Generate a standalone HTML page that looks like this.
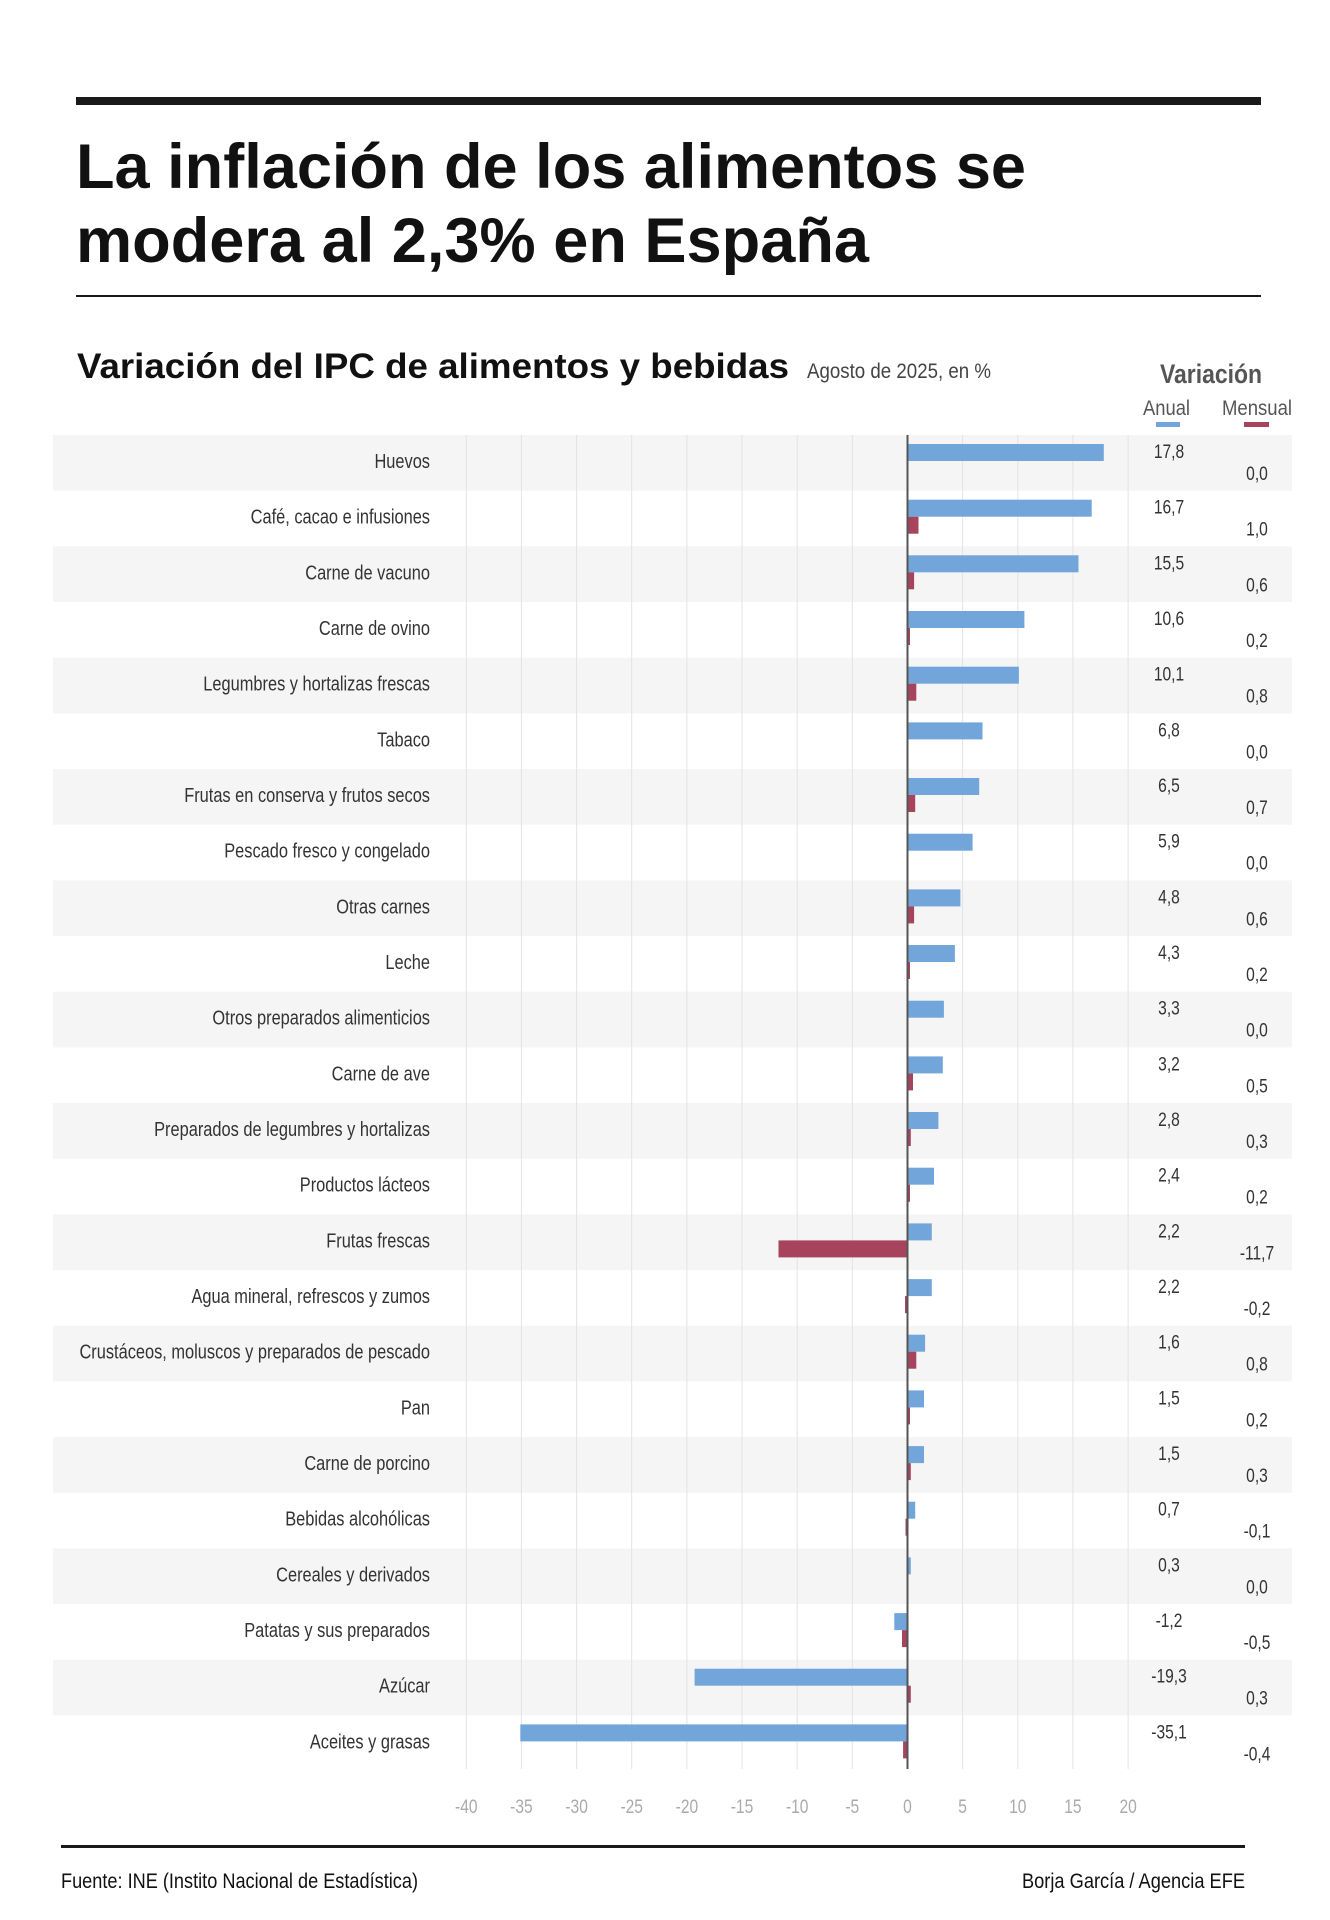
<!DOCTYPE html>
<html><head><meta charset="utf-8"><style>
html,body{margin:0;padding:0;background:#fff;}
svg{display:block;}
.n{font-family:"Liberation Sans Narrow","Liberation Sans",sans-serif;}
.b{font-family:"Liberation Sans",sans-serif;font-weight:bold;}
.lab{font-size:20px;fill:#333;text-anchor:end;}
.va{font-size:19px;fill:#333;text-anchor:middle;}
.tk{font-size:19px;fill:#aaa;text-anchor:middle;}
</style></head><body>
<svg width="1330" height="1920" viewBox="0 0 1330 1920" xmlns="http://www.w3.org/2000/svg">
<rect x="76" y="97" width="1185" height="8" fill="#1a1a1a"/>
<text class="b" x="76" y="188" font-size="63" fill="#111" textLength="950" lengthAdjust="spacingAndGlyphs">La inflación de los alimentos se</text>
<text class="b" x="76" y="262" font-size="63" fill="#111" textLength="793" lengthAdjust="spacingAndGlyphs">modera al 2,3% en España</text>
<rect x="76" y="295" width="1185" height="2" fill="#1a1a1a"/>
<text class="b" x="77" y="378" font-size="35" fill="#111" textLength="712" lengthAdjust="spacingAndGlyphs">Variación del IPC de alimentos y bebidas</text>
<text class="n" x="807" y="378" font-size="21" fill="#444" textLength="184" lengthAdjust="spacingAndGlyphs">Agosto de 2025, en %</text>
<text class="b" x="1160" y="383" font-size="27" fill="#555" textLength="102" lengthAdjust="spacingAndGlyphs">Variación</text>
<text class="n" x="1143" y="415" font-size="21" fill="#555" textLength="47" lengthAdjust="spacingAndGlyphs">Anual</text>
<text class="n" x="1222" y="415" font-size="21" fill="#555" textLength="70" lengthAdjust="spacingAndGlyphs">Mensual</text>
<rect x="1156" y="422" width="24" height="5" fill="#72a6db"/>
<rect x="1244" y="422" width="25" height="5" fill="#a8435e"/>

<g fill="#f5f5f5">
<rect x="53" y="435" width="1239" height="55.7"/>
<rect x="53" y="546.3" width="1239" height="55.7"/>
<rect x="53" y="657.7" width="1239" height="55.7"/>
<rect x="53" y="769" width="1239" height="55.7"/>
<rect x="53" y="880.4" width="1239" height="55.7"/>
<rect x="53" y="991.7" width="1239" height="55.7"/>
<rect x="53" y="1103" width="1239" height="55.7"/>
<rect x="53" y="1214.4" width="1239" height="55.7"/>
<rect x="53" y="1325.7" width="1239" height="55.7"/>
<rect x="53" y="1437.1" width="1239" height="55.7"/>
<rect x="53" y="1548.4" width="1239" height="55.7"/>
<rect x="53" y="1659.7" width="1239" height="55.7"/>
</g>
<g stroke="#e3e3e3" stroke-width="1">
<line x1="466.3" y1="435" x2="466.3" y2="1769"/>
<line x1="521.4" y1="435" x2="521.4" y2="1769"/>
<line x1="576.6" y1="435" x2="576.6" y2="1769"/>
<line x1="631.7" y1="435" x2="631.7" y2="1769"/>
<line x1="686.9" y1="435" x2="686.9" y2="1769"/>
<line x1="742" y1="435" x2="742" y2="1769"/>
<line x1="797.2" y1="435" x2="797.2" y2="1769"/>
<line x1="852.3" y1="435" x2="852.3" y2="1769"/>
<line x1="962.6" y1="435" x2="962.6" y2="1769"/>
<line x1="1017.8" y1="435" x2="1017.8" y2="1769"/>
<line x1="1072.9" y1="435" x2="1072.9" y2="1769"/>
<line x1="1128.1" y1="435" x2="1128.1" y2="1769"/>
</g>
<g class="n">
<text class="tk" transform="translate(466.3,1813) scale(.82,1)">-40</text>
<text class="tk" transform="translate(521.4,1813) scale(.82,1)">-35</text>
<text class="tk" transform="translate(576.6,1813) scale(.82,1)">-30</text>
<text class="tk" transform="translate(631.7,1813) scale(.82,1)">-25</text>
<text class="tk" transform="translate(686.9,1813) scale(.82,1)">-20</text>
<text class="tk" transform="translate(742,1813) scale(.82,1)">-15</text>
<text class="tk" transform="translate(797.2,1813) scale(.82,1)">-10</text>
<text class="tk" transform="translate(852.3,1813) scale(.82,1)">-5</text>
<text class="tk" transform="translate(907.5,1813) scale(.82,1)">0</text>
<text class="tk" transform="translate(962.6,1813) scale(.82,1)">5</text>
<text class="tk" transform="translate(1017.8,1813) scale(.82,1)">10</text>
<text class="tk" transform="translate(1072.9,1813) scale(.82,1)">15</text>
<text class="tk" transform="translate(1128.1,1813) scale(.82,1)">20</text>
</g>

<g class="n">
<g transform="translate(0,435)"><text class="lab" transform="translate(430,33) scale(.82,1)">Huevos</text><rect x="907.5" y="9" width="196.3" height="17" fill="#72a6db"/><text class="va" transform="translate(1169,23) scale(.82,1)">17,8</text><text class="va" transform="translate(1257,45) scale(.82,1)">0,0</text></g>
<g transform="translate(0,490.7)"><text class="lab" transform="translate(430,33) scale(.82,1)">Café, cacao e infusiones</text><rect x="907.5" y="9" width="184.2" height="17" fill="#72a6db"/><rect x="907.5" y="26" width="11" height="17" fill="#a8435e"/><text class="va" transform="translate(1169,23) scale(.82,1)">16,7</text><text class="va" transform="translate(1257,45) scale(.82,1)">1,0</text></g>
<g transform="translate(0,546.3)"><text class="lab" transform="translate(430,33) scale(.82,1)">Carne de vacuno</text><rect x="907.5" y="9" width="171" height="17" fill="#72a6db"/><rect x="907.5" y="26" width="6.6" height="17" fill="#a8435e"/><text class="va" transform="translate(1169,23) scale(.82,1)">15,5</text><text class="va" transform="translate(1257,45) scale(.82,1)">0,6</text></g>
<g transform="translate(0,602)"><text class="lab" transform="translate(430,33) scale(.82,1)">Carne de ovino</text><rect x="907.5" y="9" width="116.9" height="17" fill="#72a6db"/><rect x="907.5" y="26" width="2.5" height="17" fill="#a8435e"/><text class="va" transform="translate(1169,23) scale(.82,1)">10,6</text><text class="va" transform="translate(1257,45) scale(.82,1)">0,2</text></g>
<g transform="translate(0,657.7)"><text class="lab" transform="translate(430,33) scale(.82,1)">Legumbres y hortalizas frescas</text><rect x="907.5" y="9" width="111.4" height="17" fill="#72a6db"/><rect x="907.5" y="26" width="8.8" height="17" fill="#a8435e"/><text class="va" transform="translate(1169,23) scale(.82,1)">10,1</text><text class="va" transform="translate(1257,45) scale(.82,1)">0,8</text></g>
<g transform="translate(0,713.4)"><text class="lab" transform="translate(430,33) scale(.82,1)">Tabaco</text><rect x="907.5" y="9" width="75" height="17" fill="#72a6db"/><text class="va" transform="translate(1169,23) scale(.82,1)">6,8</text><text class="va" transform="translate(1257,45) scale(.82,1)">0,0</text></g>
<g transform="translate(0,769)"><text class="lab" transform="translate(430,33) scale(.82,1)">Frutas en conserva y frutos secos</text><rect x="907.5" y="9" width="71.7" height="17" fill="#72a6db"/><rect x="907.5" y="26" width="7.7" height="17" fill="#a8435e"/><text class="va" transform="translate(1169,23) scale(.82,1)">6,5</text><text class="va" transform="translate(1257,45) scale(.82,1)">0,7</text></g>
<g transform="translate(0,824.7)"><text class="lab" transform="translate(430,33) scale(.82,1)">Pescado fresco y congelado</text><rect x="907.5" y="9" width="65.1" height="17" fill="#72a6db"/><text class="va" transform="translate(1169,23) scale(.82,1)">5,9</text><text class="va" transform="translate(1257,45) scale(.82,1)">0,0</text></g>
<g transform="translate(0,880.4)"><text class="lab" transform="translate(430,33) scale(.82,1)">Otras carnes</text><rect x="907.5" y="9" width="52.9" height="17" fill="#72a6db"/><rect x="907.5" y="26" width="6.6" height="17" fill="#a8435e"/><text class="va" transform="translate(1169,23) scale(.82,1)">4,8</text><text class="va" transform="translate(1257,45) scale(.82,1)">0,6</text></g>
<g transform="translate(0,936)"><text class="lab" transform="translate(430,33) scale(.82,1)">Leche</text><rect x="907.5" y="9" width="47.4" height="17" fill="#72a6db"/><rect x="907.5" y="26" width="2.5" height="17" fill="#a8435e"/><text class="va" transform="translate(1169,23) scale(.82,1)">4,3</text><text class="va" transform="translate(1257,45) scale(.82,1)">0,2</text></g>
<g transform="translate(0,991.7)"><text class="lab" transform="translate(430,33) scale(.82,1)">Otros preparados alimenticios</text><rect x="907.5" y="9" width="36.4" height="17" fill="#72a6db"/><text class="va" transform="translate(1169,23) scale(.82,1)">3,3</text><text class="va" transform="translate(1257,45) scale(.82,1)">0,0</text></g>
<g transform="translate(0,1047.4)"><text class="lab" transform="translate(430,33) scale(.82,1)">Carne de ave</text><rect x="907.5" y="9" width="35.3" height="17" fill="#72a6db"/><rect x="907.5" y="26" width="5.5" height="17" fill="#a8435e"/><text class="va" transform="translate(1169,23) scale(.82,1)">3,2</text><text class="va" transform="translate(1257,45) scale(.82,1)">0,5</text></g>
<g transform="translate(0,1103)"><text class="lab" transform="translate(430,33) scale(.82,1)">Preparados de legumbres y hortalizas</text><rect x="907.5" y="9" width="30.9" height="17" fill="#72a6db"/><rect x="907.5" y="26" width="3.3" height="17" fill="#a8435e"/><text class="va" transform="translate(1169,23) scale(.82,1)">2,8</text><text class="va" transform="translate(1257,45) scale(.82,1)">0,3</text></g>
<g transform="translate(0,1158.7)"><text class="lab" transform="translate(430,33) scale(.82,1)">Productos lácteos</text><rect x="907.5" y="9" width="26.5" height="17" fill="#72a6db"/><rect x="907.5" y="26" width="2.5" height="17" fill="#a8435e"/><text class="va" transform="translate(1169,23) scale(.82,1)">2,4</text><text class="va" transform="translate(1257,45) scale(.82,1)">0,2</text></g>
<g transform="translate(0,1214.4)"><text class="lab" transform="translate(430,33) scale(.82,1)">Frutas frescas</text><rect x="907.5" y="9" width="24.3" height="17" fill="#72a6db"/><rect x="778.5" y="26" width="129" height="17" fill="#a8435e"/><text class="va" transform="translate(1169,23) scale(.82,1)">2,2</text><text class="va" transform="translate(1257,45) scale(.82,1)">-11,7</text></g>
<g transform="translate(0,1270.1)"><text class="lab" transform="translate(430,33) scale(.82,1)">Agua mineral, refrescos y zumos</text><rect x="907.5" y="9" width="24.3" height="17" fill="#72a6db"/><rect x="905" y="26" width="2.5" height="17" fill="#a8435e"/><text class="va" transform="translate(1169,23) scale(.82,1)">2,2</text><text class="va" transform="translate(1257,45) scale(.82,1)">-0,2</text></g>
<g transform="translate(0,1325.7)"><text class="lab" transform="translate(430,33) scale(.82,1)">Crustáceos, moluscos y preparados de pescado</text><rect x="907.5" y="9" width="17.6" height="17" fill="#72a6db"/><rect x="907.5" y="26" width="8.8" height="17" fill="#a8435e"/><text class="va" transform="translate(1169,23) scale(.82,1)">1,6</text><text class="va" transform="translate(1257,45) scale(.82,1)">0,8</text></g>
<g transform="translate(0,1381.4)"><text class="lab" transform="translate(430,33) scale(.82,1)">Pan</text><rect x="907.5" y="9" width="16.5" height="17" fill="#72a6db"/><rect x="907.5" y="26" width="2.5" height="17" fill="#a8435e"/><text class="va" transform="translate(1169,23) scale(.82,1)">1,5</text><text class="va" transform="translate(1257,45) scale(.82,1)">0,2</text></g>
<g transform="translate(0,1437.1)"><text class="lab" transform="translate(430,33) scale(.82,1)">Carne de porcino</text><rect x="907.5" y="9" width="16.5" height="17" fill="#72a6db"/><rect x="907.5" y="26" width="3.3" height="17" fill="#a8435e"/><text class="va" transform="translate(1169,23) scale(.82,1)">1,5</text><text class="va" transform="translate(1257,45) scale(.82,1)">0,3</text></g>
<g transform="translate(0,1492.7)"><text class="lab" transform="translate(430,33) scale(.82,1)">Bebidas alcohólicas</text><rect x="907.5" y="9" width="7.7" height="17" fill="#72a6db"/><rect x="905.5" y="26" width="2" height="17" fill="#a8435e"/><text class="va" transform="translate(1169,23) scale(.82,1)">0,7</text><text class="va" transform="translate(1257,45) scale(.82,1)">-0,1</text></g>
<g transform="translate(0,1548.4)"><text class="lab" transform="translate(430,33) scale(.82,1)">Cereales y derivados</text><rect x="907.5" y="9" width="3.3" height="17" fill="#72a6db"/><text class="va" transform="translate(1169,23) scale(.82,1)">0,3</text><text class="va" transform="translate(1257,45) scale(.82,1)">0,0</text></g>
<g transform="translate(0,1604.1)"><text class="lab" transform="translate(430,33) scale(.82,1)">Patatas y sus preparados</text><rect x="894.3" y="9" width="13.2" height="17" fill="#72a6db"/><rect x="902" y="26" width="5.5" height="17" fill="#a8435e"/><text class="va" transform="translate(1169,23) scale(.82,1)">-1,2</text><text class="va" transform="translate(1257,45) scale(.82,1)">-0,5</text></g>
<g transform="translate(0,1659.7)"><text class="lab" transform="translate(430,33) scale(.82,1)">Azúcar</text><rect x="694.6" y="9" width="212.9" height="17" fill="#72a6db"/><rect x="907.5" y="26" width="3.3" height="17" fill="#a8435e"/><text class="va" transform="translate(1169,23) scale(.82,1)">-19,3</text><text class="va" transform="translate(1257,45) scale(.82,1)">0,3</text></g>
<g transform="translate(0,1715.4)"><text class="lab" transform="translate(430,33) scale(.82,1)">Aceites y grasas</text><rect x="520.3" y="9" width="387.2" height="17" fill="#72a6db"/><rect x="903.1" y="26" width="4.4" height="17" fill="#a8435e"/><text class="va" transform="translate(1169,23) scale(.82,1)">-35,1</text><text class="va" transform="translate(1257,45) scale(.82,1)">-0,4</text></g>
</g>
<line x1="907.5" y1="435" x2="907.5" y2="1769" stroke="#555" stroke-width="2"/>

<rect x="61" y="1845" width="1184" height="3" fill="#1a1a1a"/>
<text class="n" x="61" y="1888" font-size="21" fill="#111" textLength="357" lengthAdjust="spacingAndGlyphs">Fuente: INE (Instito Nacional de Estadística)</text>
<text class="n" x="1245" y="1888" font-size="21" fill="#111" text-anchor="end" textLength="223" lengthAdjust="spacingAndGlyphs">Borja García / Agencia EFE</text>
</svg>
</body></html>
